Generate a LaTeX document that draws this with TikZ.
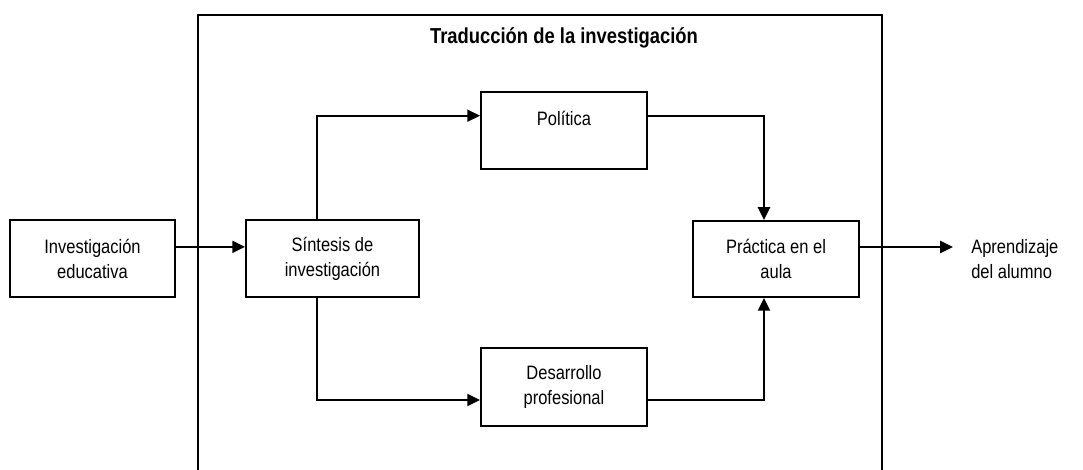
\documentclass[tikz,border=0pt]{standalone}
\usepackage{fontspec}
\setmainfont[FakeStretch=0.85]{Liberation Sans}
\usetikzlibrary{arrows.meta}

\begin{document}
\begin{tikzpicture}[
box/.style={%
draw,
line width=1.35pt,
minimum width=4.15cm,
minimum height=1.925cm,
align=center,
font=\fontsize{13.8}{17.8}\selectfont
},
flow/.style={%
line width=1.35pt,
-{Triangle[length=0.32cm,width=0.3cm]}
}
]
\useasboundingbox(0,0)rectangle(27.075,11.75);
%% Frame of the translation stage
\draw[line width=1.35pt](4.95,0)--(4.95,11.375)--(22.04,11.375)--(22.04,0);
\node[font=\fontsize{15.4}{18}\selectfont\bfseries]at(14.1,10.8)(title){Traducción de la investigación};
%% Boxes
\node[box,minimum width=4.125cm]at(2.3125,5.2875)(inv){Investigación\\educativa};
\node[box,minimum width=4.325cm]at(8.3125,5.2875)(sint){Síntesis de\\investigación};
\node[box]at(14.1,8.4875)(pol){Política\\\mbox{}};
\node[box,minimum height=1.95cm]at(14.1,2.075)(des){Desarrollo\\profesional};
\node[box,minimum height=1.9cm]at(19.4,5.275)(prac){Práctica en el\\aula};
%% Outcome
\node[anchor=west,fill=white,minimum height=1.9cm,inner xsep=0.45cm,
  align=left,font=\fontsize{13.8}{17.8}\selectfont]at(23.825,5.275)(apr){Aprendizaje\\del alumno};
%% Connectors
\draw[flow]([yshift=0.29cm]inv.east)--([yshift=0.29cm]sint.west);
\draw[flow]([xshift=-0.39cm]sint.north)|-([yshift=0.37cm]pol.west);
\draw[flow]([xshift=-0.39cm]sint.south)|-([yshift=-0.325cm]des.west);
\draw[flow]([yshift=0.37cm]pol.east)-|([xshift=-0.3cm]prac.north);
\draw[flow]([yshift=-0.325cm]des.east)-|([xshift=-0.3cm]prac.south);
\draw[flow]([yshift=0.3cm]prac.east)--([yshift=0.3cm]apr.west);
\end{tikzpicture}
\end{document}
